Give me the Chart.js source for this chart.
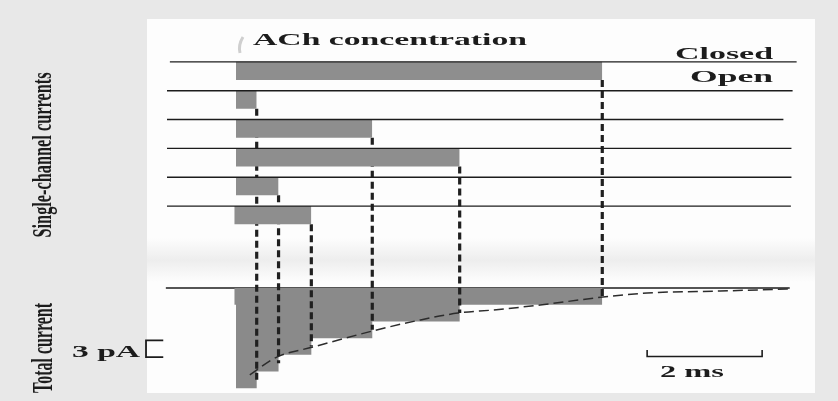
<!DOCTYPE html>
<html>
<head>
<meta charset="utf-8">
<script src="https://cdn.jsdelivr.net/npm/chart.js@4.4.1/dist/chart.umd.min.js"></script>
<style>
  html, body { margin: 0; padding: 0; background: #e8e8e8; }
  canvas { display: block; }
</style>
</head>
<body>
<canvas id="fig" width="838" height="401"></canvas>
<script>
// ACh receptor channels: opening and closing times, ms after ACh arrives
const channelLabels = ['1', '2', '3', '4', '5', '6'];
const openTimes  = [0.00, 0.00, 0.00, 0.00, 0.00, -0.03];
const closeTimes = [6.37, 0.36, 2.37, 3.89, 0.74, 1.31];

// Current carried by one open channel, pA (inward is negative)
const unitCurrent = -3;

// Exponential decay traced through the summed current
const fitTimes   = [0.24, 0.71, 1.34, 2.38, 3.20, 3.86, 4.47, 5.29, 6.38, 7.15, 8.42, 9.63];
const fitCurrent = [-15.6, -12.4, -10.6, -7.7, -5.75, -4.5, -3.95, -3.05, -1.62, -0.90, -0.54, -0.18];

// Scale bars
const scaleBarCurrent = 3; // pA
const scaleBarTime = 2;    // ms

// Where each closed-state line starts and stops, ms
const traceStarts = [-1.15, -1.20, -1.20, -1.20, -1.20, -1.20];
const traceEnds   = [9.75, 9.68, 9.52, 9.66, 9.66, 9.65];
const totalBaseline = [-1.22, 9.63];

// ---- layout ----
const W = 838, H = 401;
const PX_PER_MS = 57.5, PX_PER_PA = 5.57;
const ORIGIN_X = 236, ORIGIN_Y = 288;
const X_MIN = -ORIGIN_X / PX_PER_MS, X_MAX = X_MIN + W / PX_PER_MS;
const Y_MAX = ORIGIN_Y / PX_PER_PA, Y_MIN = Y_MAX - H / PX_PER_PA;

const TRACE_TOP = 40.6;    // closed level of the first trace
const TRACE_GAP = 5.18;    // spacing between traces
const OPEN_DEPTH = 3.25;   // drawn depth of an opening

const INK = '#1c1c1c';
const BAR = '#8e8e8e';
const FILL = '#8a8a8a';

const traceLevel = i => TRACE_TOP - i * TRACE_GAP;

// Summed current: each open channel adds one unit
const events = [];
openTimes.forEach(t => events.push({ t, d: 1 }));
closeTimes.forEach(t => events.push({ t, d: -1 }));
events.sort((a, b) => a.t - b.t || b.d - a.d);
let nOpen = 0;
const totalPts = [];
events.forEach(e => {
  totalPts.push({ x: e.t, y: nOpen * unitCurrent });
  nOpen += e.d;
  totalPts.push({ x: e.t, y: nOpen * unitCurrent });
});
const openBefore = t => openTimes.filter((o, k) => o < t && closeTimes[k] >= t).length;

const datasets = [];

// closed-state lines
channelLabels.forEach((lab, i) => {
  datasets.push({
    label: 'trace ' + lab,
    data: [{ x: traceStarts[i], y: traceLevel(i) }, { x: traceEnds[i], y: traceLevel(i) }],
    borderColor: INK, borderWidth: 1.4, order: 0
  });
});

// open periods
channelLabels.forEach((lab, i) => {
  const lvl = traceLevel(i);
  datasets.push({
    label: 'open ' + lab,
    data: [{ x: openTimes[i], y: lvl - OPEN_DEPTH }, { x: closeTimes[i], y: lvl - OPEN_DEPTH }],
    borderColor: 'rgba(0,0,0,0)', borderWidth: 1,
    backgroundColor: BAR, fill: { value: lvl }, order: 1
  });
});

// dashed drops from each closing to the summed current
channelLabels.forEach((lab, i) => {
  const t = closeTimes[i];
  const n = openBefore(t);
  datasets.push({
    label: 'drop ' + lab,
    data: [{ x: t, y: traceLevel(i) - OPEN_DEPTH }, { x: t, y: (n - 0.5) * unitCurrent }],
    borderColor: '#202020', borderWidth: 3.2, borderDash: [7, 4], order: 2
  });
});

// exponential decay
datasets.push({
  label: 'decay',
  data: fitTimes.map((t, k) => ({ x: t, y: fitCurrent[k] })),
  borderColor: '#2c2c2c', borderWidth: 1.5, borderDash: [10, 5],
  cubicInterpolationMode: 'monotone', order: 2
});

// summed current
datasets.push({
  label: 'total',
  data: totalPts,
  borderColor: 'rgba(0,0,0,0)', borderWidth: 1,
  backgroundColor: FILL, fill: { value: 0 }, order: 3
});
datasets.push({
  label: 'total baseline',
  data: totalBaseline.map(t => ({ x: t, y: 0 })),
  borderColor: INK, borderWidth: 1.4, order: 4
});

// scale bars
const pABarX = -1.565, pABarTick = 0.30, pABarBottom = -12.4;
datasets.push({
  label: scaleBarCurrent + ' pA',
  data: [
    { x: pABarX + pABarTick, y: pABarBottom + scaleBarCurrent },
    { x: pABarX, y: pABarBottom + scaleBarCurrent },
    { x: pABarX, y: pABarBottom },
    { x: pABarX + pABarTick, y: pABarBottom }
  ],
  borderColor: INK, borderWidth: 1.8, order: 0
});
const msBarX = 7.15, msBarY = -12.3, msBarTick = 1.15;
datasets.push({
  label: scaleBarTime + ' ms',
  data: [
    { x: msBarX, y: msBarY + msBarTick },
    { x: msBarX, y: msBarY },
    { x: msBarX + scaleBarTime, y: msBarY },
    { x: msBarX + scaleBarTime, y: msBarY + msBarTick }
  ],
  borderColor: INK, borderWidth: 1.6, order: 0
});

function stretchedText(ctx, str, x, y, width, o) {
  ctx.save();
  ctx.font = o.font;
  const w = ctx.measureText(str).width;
  ctx.translate(x, y);
  if (o.rotate) ctx.rotate(o.rotate);
  ctx.scale(width / w, o.cross || 1);
  ctx.textAlign = o.align || 'left';
  ctx.textBaseline = 'alphabetic';
  ctx.fillStyle = INK;
  ctx.fillText(str, 0, 0);
  ctx.restore();
}

const figurePlugin = {
  id: 'figure',
  beforeDraw(chart) {
    const ctx = chart.ctx;
    ctx.save();
    ctx.fillStyle = '#e8e8e8';
    ctx.fillRect(0, 0, W, H);
    ctx.fillStyle = '#fdfdfd';
    ctx.fillRect(147, 19, 668, 374);
    const g = ctx.createLinearGradient(0, 238, 0, 282);
    g.addColorStop(0, 'rgba(232,232,232,0)');
    g.addColorStop(0.5, 'rgba(232,232,232,0.75)');
    g.addColorStop(1, 'rgba(232,232,232,0)');
    ctx.fillStyle = g;
    ctx.fillRect(147, 238, 668, 44);
    // ACh pulse marker
    ctx.strokeStyle = '#cfcfcf';
    ctx.lineWidth = 3;
    ctx.beginPath();
    ctx.moveTo(243, 37);
    ctx.quadraticCurveTo(238, 45, 240, 53);
    ctx.stroke();
    ctx.restore();
  },
  afterDraw(chart) {
    const ctx = chart.ctx;
    const bold = 'bold 17px "Liberation Serif"';
    stretchedText(ctx, 'ACh concentration', 253, 44.5, 274, { font: bold });
    stretchedText(ctx, 'Closed', 773, 58.5, 98, { font: bold, align: 'right' });
    stretchedText(ctx, 'Open', 773, 81.5, 83, { font: bold, align: 'right' });
    stretchedText(ctx, '3 pA', 72, 357, 68, { font: bold });
    stretchedText(ctx, '2 ms', 660, 377, 64, { font: bold });
    stretchedText(ctx, 'Single-channel currents', 51, 155, 165,
      { font: 'bold 17px "Liberation Serif"', rotate: -Math.PI / 2, align: 'center', cross: 1.65 });
    stretchedText(ctx, 'Total current', 52, 348, 90,
      { font: 'bold 17px "Liberation Serif"', rotate: -Math.PI / 2, align: 'center', cross: 1.7 });
  }
};

new Chart(document.getElementById('fig'), {
  type: 'scatter',
  data: { datasets: datasets.map(d => Object.assign({ showLine: true, pointRadius: 0, tension: 0 }, d)) },
  options: {
    responsive: false,
    animation: false,
    devicePixelRatio: 1,
    layout: { padding: 0 },
    plugins: { legend: { display: false }, tooltip: { enabled: false }, title: { display: false } },
    scales: {
      x: { type: 'linear', min: X_MIN, max: X_MAX, display: false },
      y: { type: 'linear', min: Y_MIN, max: Y_MAX, display: false }
    }
  },
  plugins: [figurePlugin]
});
</script>
</body>
</html>
